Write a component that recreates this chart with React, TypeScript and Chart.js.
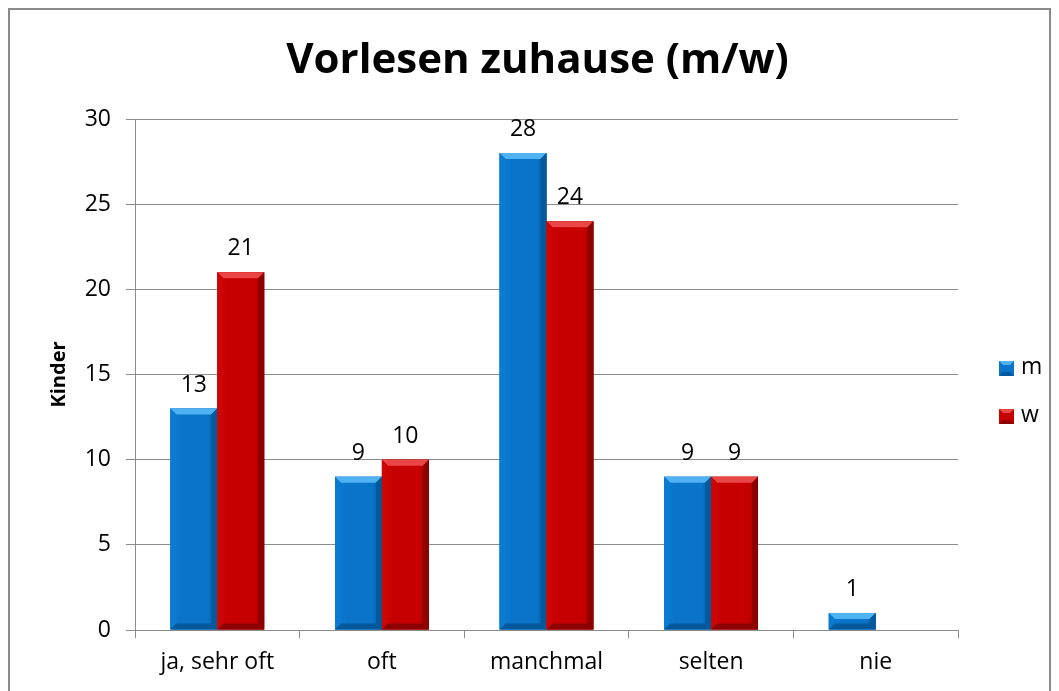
import React, { useEffect, useRef } from "react";
import { Chart, registerables } from "chart.js";

Chart.register(...registerables);

const categories = ["ja, sehr oft", "oft", "manchmal", "selten", "nie"];
const seriesNames = ["m", "w"];
const mValues: (number | null)[] = [13, 9, 28, 9, 1];
const wValues: (number | null)[] = [21, 10, 24, 9, null];
const yTicks = [0, 5, 10, 15, 20, 25, 30];
const chartTitle = "Vorlesen zuhause (m/w)";
const yTitle = "Kinder";

const FONT = "'Open Sans', 'Liberation Sans', sans-serif";
const GRID = "#8c8c8c";
const TXT = 23;

const palette = [
  { base: "#0a74c9", light: "#4fb2f2", side: "#0b7bd2", dark: "#04589c" },
  { base: "#c60000", light: "#ea4646", side: "#cc0505", dark: "#8e0000" },
];

const titlePlugin = {
  id: "customTitle",
  afterDraw(chart: any) {
    const ctx = chart.ctx;
    ctx.save();
    ctx.font = `bold 42px ${FONT}`;
    ctx.fillStyle = "#000";
    ctx.textAlign = "center";
    ctx.textBaseline = "alphabetic";
    ctx.fillText(chartTitle, chart.width / 2 + 8, 63);
    ctx.restore();
  },
};

const bevelPlugin = {
  id: "bevel",
  afterDatasetsDraw(chart: any) {
    const ctx = chart.ctx;
    chart.data.datasets.forEach((ds: any, di: number) => {
      const meta = chart.getDatasetMeta(di);
      const pal = palette[di];
      meta.data.forEach((el: any, i: number) => {
        const v = ds.data[i];
        if (v === null || v === undefined || v === 0) return;
        const { x, y, base, width } = el.getProps(["x", "y", "base", "width"], true);
        const left = x - width / 2;
        const right = x + width / 2;
        const top = Math.min(y, base);
        const bottom = Math.max(y, base);
        const b = Math.min(6, (bottom - top) / 2);
        ctx.save();
        const g = ctx.createLinearGradient(left, 0, right, 0);
        g.addColorStop(0, pal.side);
        g.addColorStop(0.25, pal.base);
        g.addColorStop(0.8, pal.base);
        g.addColorStop(1, pal.dark);
        ctx.fillStyle = g;
        ctx.fillRect(left, top, right - left, bottom - top);
        ctx.fillStyle = pal.light;
        ctx.beginPath();
        ctx.moveTo(left, top);
        ctx.lineTo(right, top);
        ctx.lineTo(right - b, top + b);
        ctx.lineTo(left + b, top + b);
        ctx.closePath();
        ctx.fill();
        ctx.fillStyle = pal.side;
        ctx.beginPath();
        ctx.moveTo(left, top);
        ctx.lineTo(left + b, top + b);
        ctx.lineTo(left + b, bottom - b);
        ctx.lineTo(left, bottom);
        ctx.closePath();
        ctx.fill();
        ctx.fillStyle = pal.dark;
        ctx.beginPath();
        ctx.moveTo(right, top);
        ctx.lineTo(right - b, top + b);
        ctx.lineTo(right - b, bottom - b);
        ctx.lineTo(right, bottom);
        ctx.closePath();
        ctx.fill();
        ctx.beginPath();
        ctx.moveTo(left, bottom);
        ctx.lineTo(left + b, bottom - b);
        ctx.lineTo(right - b, bottom - b);
        ctx.lineTo(right, bottom);
        ctx.closePath();
        ctx.fill();
        ctx.restore();
      });
    });
  },
};

const labelPlugin = {
  id: "valueLabels",
  afterDatasetsDraw(chart: any) {
    const ctx = chart.ctx;
    ctx.save();
    ctx.font = `${TXT}px ${FONT}`;
    ctx.fillStyle = "#000";
    ctx.textAlign = "center";
    ctx.textBaseline = "alphabetic";
    chart.data.datasets.forEach((ds: any, di: number) => {
      const meta = chart.getDatasetMeta(di);
      meta.data.forEach((el: any, i: number) => {
        const v = ds.data[i];
        if (v === null || v === undefined) return;
        const { x, y } = el.getProps(["x", "y"], true);
        ctx.fillText(String(v), x, y - 17);
      });
    });
    ctx.restore();
  },
};

const legendPlugin = {
  id: "sideLegend",
  afterDraw(chart: any) {
    const ctx = chart.ctx;
    const area = chart.chartArea;
    const cy = (area.top + area.bottom) / 2 + 18;
    const gap = 48;
    ctx.save();
    ctx.font = `${TXT}px ${FONT}`;
    ctx.textBaseline = "middle";
    ctx.textAlign = "left";
    chart.data.datasets.forEach((ds: any, di: number) => {
      const pal = palette[di];
      const yc = cy + (di - (chart.data.datasets.length - 1) / 2) * gap;
      const bx = area.right + 41;
      const s = 15;
      const by = yc - s / 2;
      ctx.fillStyle = pal.base;
      ctx.fillRect(bx, by, s, s);
      const b = 4;
      ctx.fillStyle = pal.light;
      ctx.beginPath();
      ctx.moveTo(bx, by);
      ctx.lineTo(bx + s, by);
      ctx.lineTo(bx + s - b, by + b);
      ctx.lineTo(bx + b, by + b);
      ctx.closePath();
      ctx.fill();
      ctx.fillStyle = pal.dark;
      ctx.beginPath();
      ctx.moveTo(bx, by + s);
      ctx.lineTo(bx + b, by + s - b);
      ctx.lineTo(bx + s - b, by + s - b);
      ctx.lineTo(bx + s, by + s);
      ctx.closePath();
      ctx.fill();
      ctx.fillStyle = "#000";
      ctx.fillText(ds.label, bx + s + 7, yc - 1);
    });
    ctx.restore();
  },
};

export default function App() {
  const ref = useRef<HTMLCanvasElement | null>(null);

  useEffect(() => {
    if (!ref.current) return;
    const chart = new Chart(ref.current, {
      type: "bar",
      data: {
        labels: categories,
        datasets: [
          {
            label: seriesNames[0],
            data: mValues,
            backgroundColor: palette[0].base,
            borderWidth: 0,
            categoryPercentage: 0.57,
            barPercentage: 1.0,
          },
          {
            label: seriesNames[1],
            data: wValues,
            backgroundColor: palette[1].base,
            borderWidth: 0,
            categoryPercentage: 0.57,
            barPercentage: 1.0,
          },
        ],
      },
      options: {
        responsive: false,
        animation: false,
        devicePixelRatio: 1,
        layout: { padding: { left: 0, right: 91, top: 109, bottom: 0 } },
        plugins: {
          legend: { display: false },
          tooltip: { enabled: false },
          title: { display: false },
        },
        scales: {
          x: {
            offset: true,
            grid: {
              display: true,
              drawOnChartArea: false,
              offset: true,
              tickLength: 8,
              color: GRID,
            },
            border: { display: true, color: GRID, width: 1 },
            ticks: {
              color: "#000",
              font: { family: FONT, size: TXT },
              padding: 11,
            },
            afterFit: (s: any) => {
              s.height = 61;
            },
          },
          y: {
            min: 0,
            max: 30,
            afterBuildTicks: (s: any) => {
              s.ticks = yTicks.map((v) => ({ value: v }));
            },
            ticks: {
              color: "#000",
              font: { family: FONT, size: TXT },
              padding: 15,
            },
            grid: { color: GRID, tickLength: 9 },
            border: { display: true, color: GRID, width: 1 },
            title: {
              display: true,
              text: yTitle,
              color: "#000",
              font: { family: FONT, size: 20, weight: "bold" },
              padding: { top: 37, bottom: 0 },
            },
            afterFit: (s: any) => {
              s.width = 125;
            },
          },
        },
      },
      plugins: [bevelPlugin, labelPlugin, legendPlugin, titlePlugin],
    });
    return () => chart.destroy();
  }, []);

  return (
    <div
      style={{
        width: 1043,
        height: 683,
        boxSizing: "border-box",
        borderTop: "2px solid #8a8a8a",
        borderLeft: "2px solid #8a8a8a",
        borderRight: "2px solid #8a8a8a",
        background: "#fff",
      }}
    >
      <canvas ref={ref} width={1039} height={681} style={{ display: "block", width: 1039, height: 681 }} />
    </div>
  );
}
